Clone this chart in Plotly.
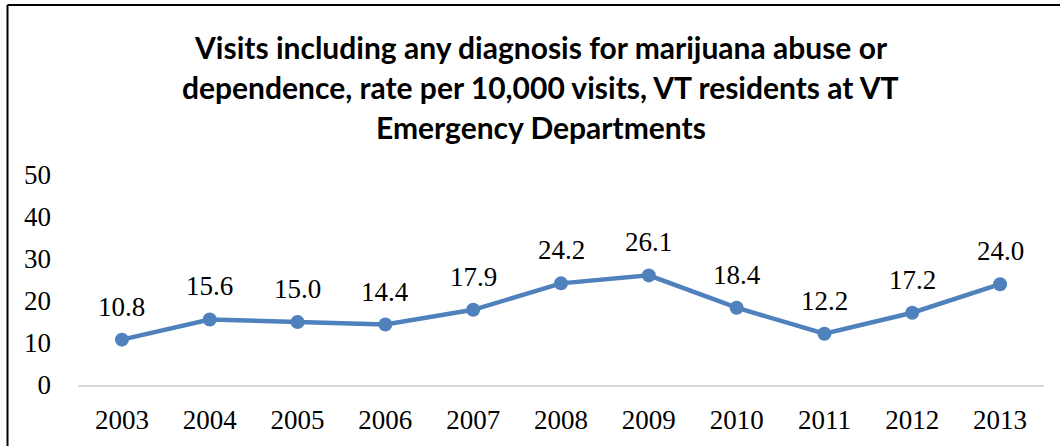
import plotly.graph_objects as go

years = [2003, 2004, 2005, 2006, 2007, 2008, 2009, 2010, 2011, 2012, 2013]
rates = [10.8, 15.6, 15.0, 14.4, 17.9, 24.2, 26.1, 18.4, 12.2, 17.2, 24.0]
title_lines = [
    "Visits including any diagnosis for marijuana abuse or",
    "dependence, rate per 10,000 visits, VT residents at VT",
    "Emergency Departments",
]
y_ticks = [0, 10, 20, 30, 40, 50]

W, H = 1060, 446
L, R, T, B = 78, 16, 175, 61
pw, ph = W - L - R, H - T - B

def px_x(p):
    return (p - L) / pw

def px_y(p):
    return (H - B - p) / ph

BLUE = "#4F81BD"
SERIF = "Liberation Serif, Times New Roman, serif"

fig = go.Figure()
fig.add_trace(go.Scatter(
    x=years, y=rates, mode="lines+markers",
    line=dict(color=BLUE, width=4.5),
    marker=dict(color=BLUE, size=14),
    showlegend=False, hoverinfo="x+y",
))

annotations = []
for yr, v in zip(years, rates):
    annotations.append(dict(
        x=yr, y=v, xref="x", yref="y", text=f"{v:.1f}", showarrow=False,
        yshift=33, yanchor="middle", font=dict(family=SERIF, size=27, color="#000000"),
    ))

title_y_px = [47, 87, 127]
for line, yp in zip(title_lines, title_y_px):
    annotations.append(dict(
        x=px_x(540.5), y=px_y(yp), xref="paper", yref="paper", text=f"<b>{line}</b>",
        showarrow=False, xanchor="center", yanchor="middle",
        font=dict(family="Lato, Open Sans, sans-serif", size=30, color="#000000"),
    ))

shapes = [
    dict(type="line", xref="paper", yref="paper", x0=px_x(7.5), x1=px_x(7.5),
         y0=px_y(5), y1=px_y(470), line=dict(color="#000000", width=2)),
    dict(type="line", xref="paper", yref="paper", x0=px_x(7.5), x1=px_x(1080),
         y0=px_y(5), y1=px_y(5), line=dict(color="#000000", width=2)),
]

fig.update_layout(
    width=W, height=H,
    margin=dict(l=L, r=R, t=T, b=B, pad=0, autoexpand=False),
    paper_bgcolor="#FFFFFF", plot_bgcolor="#FFFFFF",
    annotations=annotations, shapes=shapes,
    xaxis=dict(
        range=[min(years) - 0.5, max(years) + 0.5], tickvals=years,
        showgrid=False, zeroline=False, automargin=False,
        showline=True, linecolor="#D9D9D9", linewidth=2,
        ticks="", ticklabelstandoff=10,
        tickfont=dict(family=SERIF, size=27, color="#000000"),
    ),
    yaxis=dict(
        range=[0, 50], tickvals=y_ticks, showgrid=False, zeroline=False,
        showline=False, ticks="", ticklabelstandoff=26, automargin=False,
        tickfont=dict(family=SERIF, size=27, color="#000000"),
    ),
)

fig.write_html(
    "out.html",
    config={"displayModeBar": False},
    post_script="document.body.style.margin='0';document.body.style.overflow='hidden';",
)
